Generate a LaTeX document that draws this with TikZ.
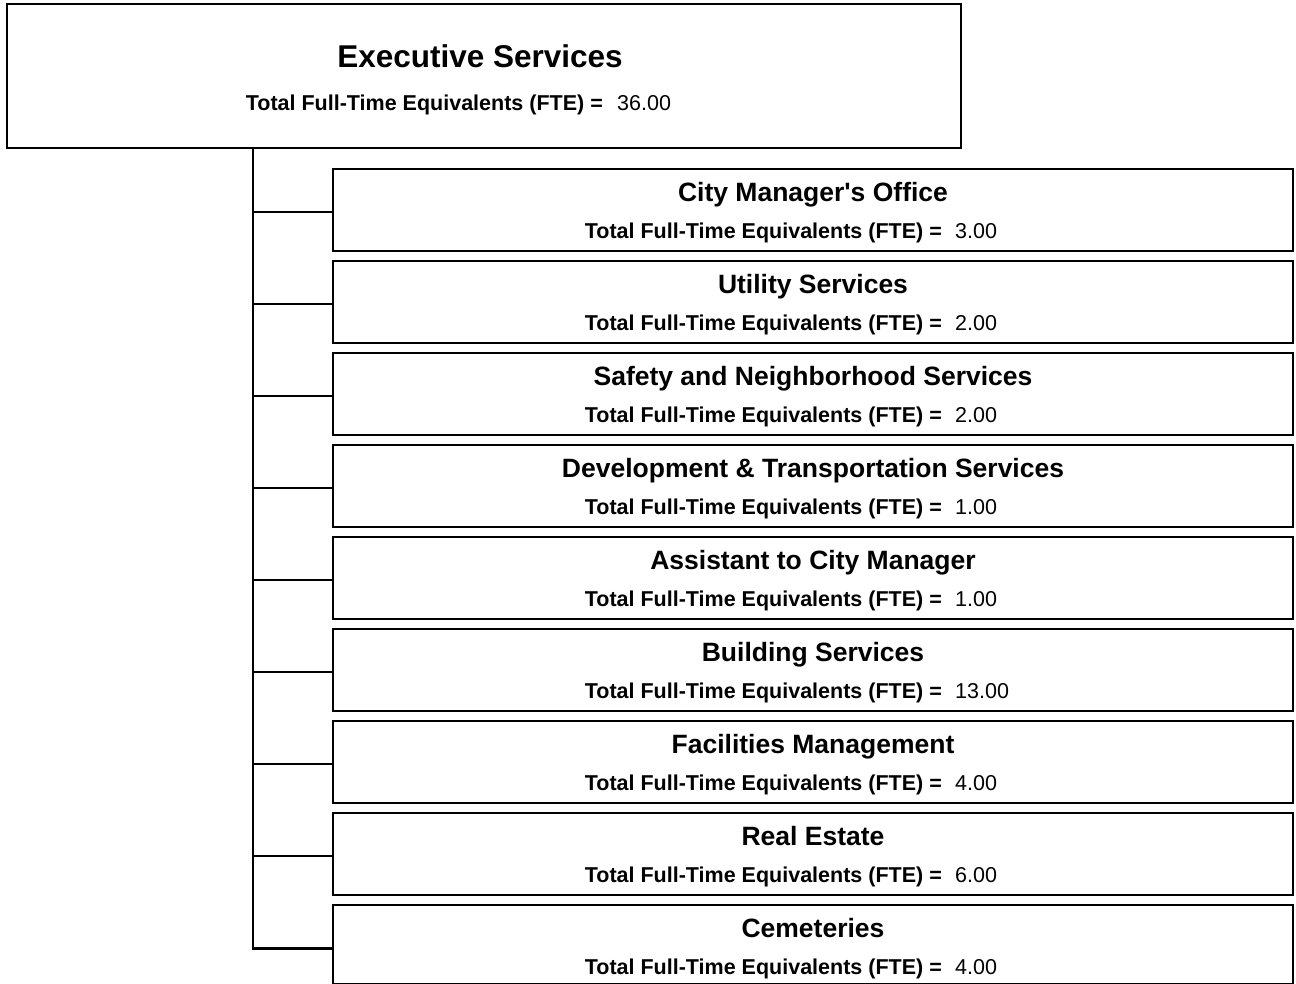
\documentclass[tikz,border=0pt]{standalone}
\usepackage{fontspec}
\setmainfont{Liberation Sans}[Ligatures=TeXOff]
\begin{document}
\begin{tikzpicture}[x=1pt,y=-1pt,
  box/.style={draw, line width=2.8pt, anchor=north west, inner sep=0pt, outer sep=0pt},
  ttl/.style={anchor=base, inner sep=0pt, font=\bfseries\fontsize{26.5}{30}\selectfont},
  bigttl/.style={anchor=base, inner sep=0pt, font=\bfseries\fontsize{31.5}{36}\selectfont},
  lbl/.style={anchor=base east, inner sep=0pt, font=\bfseries\fontsize{21.5}{24}\selectfont},
  num/.style={anchor=base west, inner sep=0pt, font=\fontsize{21.5}{24}\selectfont},
  conn/.style={line width=2.5pt}]
\useasboundingbox (0,0) rectangle (1296,983);
% top box
\node[box, minimum width=954pt, minimum height=144pt] (exec) at (7,4) {};
\node[bigttl] (exect) at (480,67) {Executive Services};
\node[lbl] (execl) at (603,110) {Total Full-Time Equivalents (FTE) =};
\node[num] (execn) at (617,110) {36.00};
\coordinate (trunk) at (253,0);
% children
\foreach \i/\h/\name/\fte in {
  1/82/{City Manager's Office}/3.00,
  2/82/{Utility Services}/2.00,
  3/82/{Safety and Neighborhood Services}/2.00,
  4/82/{Development \& Transportation Services}/1.00,
  5/82/{Assistant to City Manager}/1.00,
  6/82/{Building Services}/13.00,
  7/82/{Facilities Management}/4.00,
  8/82/{Real Estate}/6.00,
  9/79/{Cemeteries}/4.00}{
  \pgfmathsetmacro{\top}{169+92*(\i-1)}
  \node[box, minimum width=960pt, minimum height=\h pt] (c\i) at (333,\top) {};
  \node[ttl] (t\i) at (813,\top+32) {\name};
  \node[lbl] (l\i) at (942,\top+69) {Total Full-Time Equivalents (FTE) =};
  \node[num] (n\i) at (955,\top+69) {\fte};
}
\foreach \i in {1,...,8}{
  \draw[conn] ([yshift=-2pt]c\i.west -| trunk) -- ([yshift=-2pt]c\i.west);
}
\draw[conn] (exec.south -| trunk) |- ([yshift=-4pt]c9.west);
\end{tikzpicture}
\end{document}
